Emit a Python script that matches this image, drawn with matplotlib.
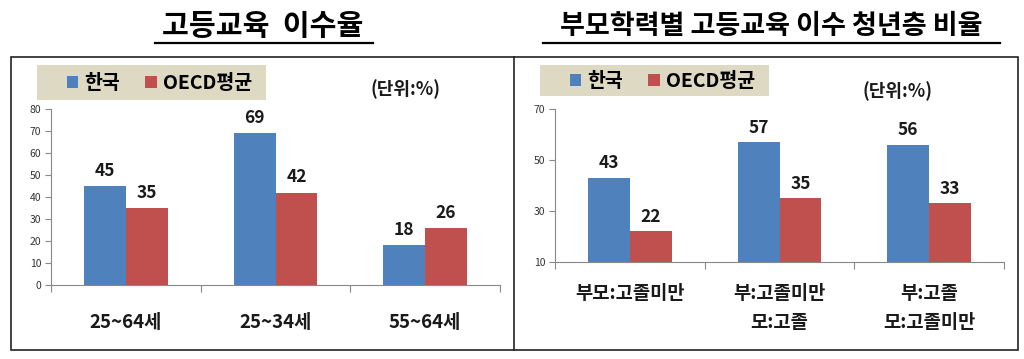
import matplotlib
matplotlib.use("Agg")
import matplotlib.pyplot as plt
import matplotlib.transforms as mtransforms
import numpy as np
from matplotlib.patches import Rectangle, Patch
from matplotlib.lines import Line2D

plt.rcParams['font.family'] = ['Noto Sans CJK KR', 'DejaVu Sans']

titles = ["고등교육  이수율", "부모학력별 고등교육 이수 청년층 비율"]
series_names = ["한국", "OECD평균"]
left_cats = ["25~64세", "25~34세", "55~64세"]
left_korea = [45, 69, 18]
left_oecd = [35, 42, 26]
left_yticks = [0, 10, 20, 30, 40, 50, 60, 70, 80]
right_cats = ["부모:고졸미만", "부:고졸미만\n모:고졸", "부:고졸\n모:고졸미만"]
right_korea = [43, 57, 56]
right_oecd = [22, 35, 33]
right_yticks = [10, 30, 50, 70]
unit_label = "(단위:%)"

BLUE = "#4F81BD"
RED = "#C0504D"
LEG_BG = "#DDD9C3"
TXT = "#1a1a1a"

W, H = 1024, 359
fig = plt.figure(figsize=(W / 100, H / 100), dpi=100)
fig.patch.set_facecolor("white")

def fx(px):
    return px / W

def fy(py):
    return 1 - py / H

# panel borders
fig.add_artist(Rectangle((fx(11), fy(350)), fx(1018) - fx(11), fy(57) - fy(350),
                         transform=fig.transFigure, fill=False, edgecolor="#222222", lw=1.2))
fig.add_artist(Line2D([fx(514), fx(514)], [fy(57), fy(350)], transform=fig.transFigure,
                      color="#222222", lw=1.2))

# titles with underline
title_specs = [(titles[0], 263, 155, 373, 21), (titles[1], 771, 543, 1000, 19.5)]
for t, cx, x0, x1, fs in title_specs:
    fig.text(fx(cx), fy(26), t, ha="center", va="center", fontsize=fs, fontweight="bold",
             color="black")
    fig.add_artist(Line2D([fx(x0), fx(x1)], [fy(43), fy(43)], transform=fig.transFigure,
                          color="black", lw=1.6))

def draw_panel(ax_box, cats, korea, oecd, yticks, ylim, leg_box, unit_xy, label_y):
    x0, y0, x1, y1 = ax_box
    ax = fig.add_axes([fx(x0), fy(y1), fx(x1) - fx(x0), fy(y0) - fy(y1)])
    x = np.arange(len(cats))
    w = 0.28
    ax.bar(x - w / 2, korea, w, color=BLUE, zorder=2)
    ax.bar(x + w / 2, oecd, w, color=RED, zorder=2)
    off = (ylim[1] - ylim[0]) * 0.035
    for xi, v in zip(x, korea):
        ax.text(xi - w / 2, v + off, str(v), ha="center", va="bottom",
                fontsize=12.5, fontweight="bold", color=TXT)
    for xi, v in zip(x, oecd):
        ax.text(xi + w / 2, v + off, str(v), ha="center", va="bottom",
                fontsize=12.5, fontweight="bold", color=TXT)
    ax.set_xlim(-0.5, len(cats) - 0.5)
    ax.set_ylim(*ylim)
    ax.set_yticks(yticks)
    ax.set_yticklabels([str(v) for v in yticks], fontsize=7.5, color="#333333")
    ax.set_xticks(np.arange(len(cats) + 1) - 0.5)
    ax.set_xticklabels([])
    ax.tick_params(axis="x", direction="out", length=5, color="#888888")
    ax.tick_params(axis="y", direction="out", length=4, color="#888888", pad=3)
    for s in ["top", "right"]:
        ax.spines[s].set_visible(False)
    for s in ["left", "bottom"]:
        ax.spines[s].set_color("#888888")
    ax.set_facecolor("none")
    # category labels
    tr = mtransforms.blended_transform_factory(ax.transData, fig.transFigure)
    for xi, c in zip(x, cats):
        ax.text(xi, fy(label_y), c, transform=tr, ha="center", va="top",
                fontsize=13.5, fontweight="bold", color=TXT, linespacing=1.65)
    # legend box
    lx0, ly0, lx1, ly1 = leg_box
    fig.add_artist(Rectangle((fx(lx0), fy(ly1)), fx(lx1) - fx(lx0), fy(ly0) - fy(ly1),
                             transform=fig.transFigure, facecolor=LEG_BG, edgecolor="none"))
    handles = [Patch(facecolor=BLUE), Patch(facecolor=RED)]
    fig.legend(handles, series_names, loc="center left",
               bbox_to_anchor=(fx(lx0 + 12), fy((ly0 + ly1) / 2 + 1)),
               frameon=False, ncol=2, handlelength=0.6, handleheight=0.6,
               handletextpad=0.3, columnspacing=1.3,
               prop={"size": 14, "weight": "bold"})
    fig.text(fx(unit_xy[0]), fy(unit_xy[1]), unit_label, ha="center", va="center",
             fontsize=13, fontweight="bold", color=TXT)
    return ax

draw_panel((51, 109, 500, 285), left_cats, left_korea, left_oecd, left_yticks, (0, 80),
           (37, 65, 266, 100), (405, 89), 313)
draw_panel((555, 109, 1004, 262), right_cats, right_korea, right_oecd, right_yticks, (10, 70),
           (540, 65, 769, 96), (898, 91), 284)

fig.savefig("out.png", dpi=100, facecolor="white")
